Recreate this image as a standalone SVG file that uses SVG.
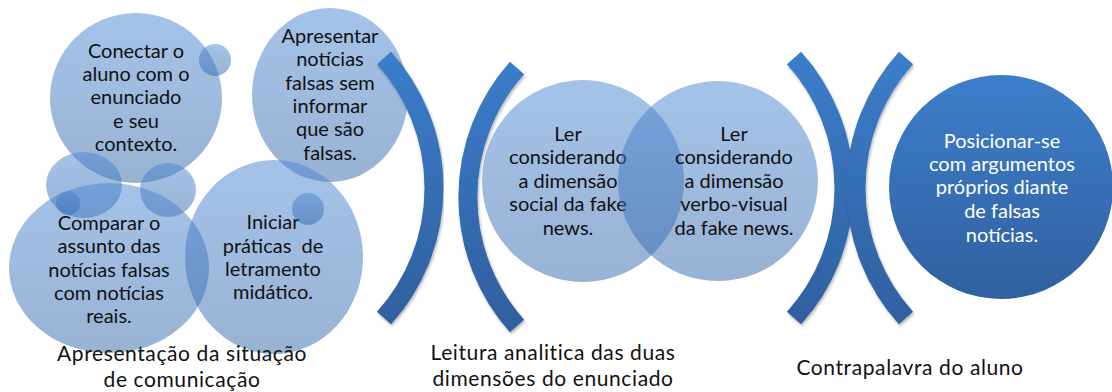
<svg xmlns="http://www.w3.org/2000/svg" width="1112" height="392" viewBox="0 0 1112 392">
<defs>
<linearGradient id="lb" x1="0" y1="0" x2="0" y2="1">
<stop offset="0" stop-color="#4A86D2" stop-opacity="0.5"/>
<stop offset="1" stop-color="#3366A8" stop-opacity="0.5"/>
</linearGradient>
<linearGradient id="db" x1="0" y1="0" x2="0" y2="1">
<stop offset="0" stop-color="#3E7ECB"/>
<stop offset="1" stop-color="#30609F"/>
</linearGradient>
<linearGradient id="ab" gradientUnits="userSpaceOnUse" x1="0" y1="50" x2="0" y2="330">
<stop offset="0" stop-color="#3C7DCB"/>
<stop offset="1" stop-color="#2F5F9E"/>
</linearGradient>
<filter id="sh" x="-20%" y="-10%" width="140%" height="120%">
<feDropShadow dx="1" dy="2" stdDeviation="1.5" flood-color="#000" flood-opacity="0.3"/>
</filter>
</defs>
<style>
.c{fill:url(#lb)}
.t{font-family:Lato,"Noto Sans",sans-serif;font-size:20px;fill:#111;text-anchor:middle}
.w{fill:#fff}
.l{font-family:Lato,"Noto Sans",sans-serif;font-size:21px;letter-spacing:0.6px;fill:#111;text-anchor:middle}
.arc{fill:none;stroke:url(#ab);stroke-width:19;filter:url(#sh)}
</style>

<g id="node-conectar">
<ellipse class="c" cx="136" cy="98" rx="86" ry="85"/>
<text class="t"><tspan x="136" y="58">Conectar o</tspan><tspan x="136" y="81">aluno com o</tspan><tspan x="136" y="104">enunciado</tspan><tspan x="136" y="128">e seu</tspan><tspan x="136" y="151">contexto.</tspan></text>
</g>
<g id="node-small-1"><circle class="c" cx="215" cy="60" r="16"/></g>
<g id="node-apresentar">
<ellipse class="c" cx="330" cy="95" rx="78" ry="87"/>
<text class="t"><tspan x="330" y="43">Apresentar</tspan><tspan x="330" y="66">notícias</tspan><tspan x="330" y="90">falsas sem</tspan><tspan x="330" y="113">informar</tspan><tspan x="330" y="136">que são</tspan><tspan x="330" y="160">falsas.</tspan></text>
</g>
<g id="node-ellipse-left"><ellipse class="c" cx="84" cy="185" rx="38" ry="33"/></g>
<g id="node-ellipse-mid"><ellipse class="c" cx="168" cy="190" rx="28" ry="27"/></g>
<g id="node-comparar">
<ellipse class="c" cx="109" cy="268" rx="100" ry="85"/>
<text class="t"><tspan x="109" y="230">Comparar o</tspan><tspan x="109" y="253">assunto das</tspan><tspan x="109" y="277">notícias falsas</tspan><tspan x="109" y="300">com notícias</tspan><tspan x="109" y="323">reais.</tspan></text>
</g>
<g id="node-small-2"><circle class="c" cx="68" cy="203" r="12"/></g>
<g id="node-iniciar">
<ellipse class="c" cx="274" cy="257" rx="89" ry="97"/>
<text class="t"><tspan x="273" y="229">Iniciar</tspan><tspan x="273" y="253">práticas &#160;de</tspan><tspan x="273" y="276">letramento</tspan><tspan x="273" y="299">midático.</tspan></text>
</g>
<g id="node-small-3"><circle class="c" cx="308" cy="209" r="16"/></g>

<g id="node-ler-social">
<circle class="c" cx="583" cy="181" r="101"/>
<text class="t"><tspan x="568" y="141">Ler</tspan><tspan x="568" y="164">considerando</tspan><tspan x="568" y="188">a dimensão</tspan><tspan x="568" y="211">social da fake</tspan><tspan x="568" y="235">news.</tspan></text>
</g>
<g id="node-ler-verbo">
<circle class="c" cx="718" cy="181" r="100"/>
<text class="t"><tspan x="734" y="141">Ler</tspan><tspan x="734" y="164">considerando</tspan><tspan x="734" y="188">a dimensão</tspan><tspan x="734" y="211">verbo-visual</tspan><tspan x="734" y="235">da fake news.</tspan></text>
</g>

<g id="node-posicionar">
<circle cx="1001" cy="187" r="112" fill="url(#db)"/>
<text class="t w"><tspan x="1002" y="148">Posicionar-se</tspan><tspan x="1002" y="171">com argumentos</tspan><tspan x="1002" y="194">próprios diante</tspan><tspan x="1002" y="218">de falsas</tspan><tspan x="1002" y="242">notícias.</tspan></text>
</g>

<g id="connectors">
<path class="arc" d="M384,58 A194,194 0 0 1 384,318"/>
<path class="arc" d="M517,68 A194,194 0 0 0 517,326"/>
<path class="arc" d="M794,58 A194,194 0 0 1 794,318"/>
<path class="arc" d="M906,58 A194,194 0 0 0 906,318"/>
</g>

<g id="labels">
<text class="l"><tspan x="182" y="361">Apresentação da situação</tspan><tspan x="182" y="387">de comunicação</tspan></text>
<text class="l"><tspan x="553" y="360">Leitura analitica das duas</tspan><tspan x="553" y="386">dimensões do enunciado</tspan></text>
<text class="l"><tspan x="910" y="375">Contrapalavra do aluno</tspan></text>
</g>
</svg>
